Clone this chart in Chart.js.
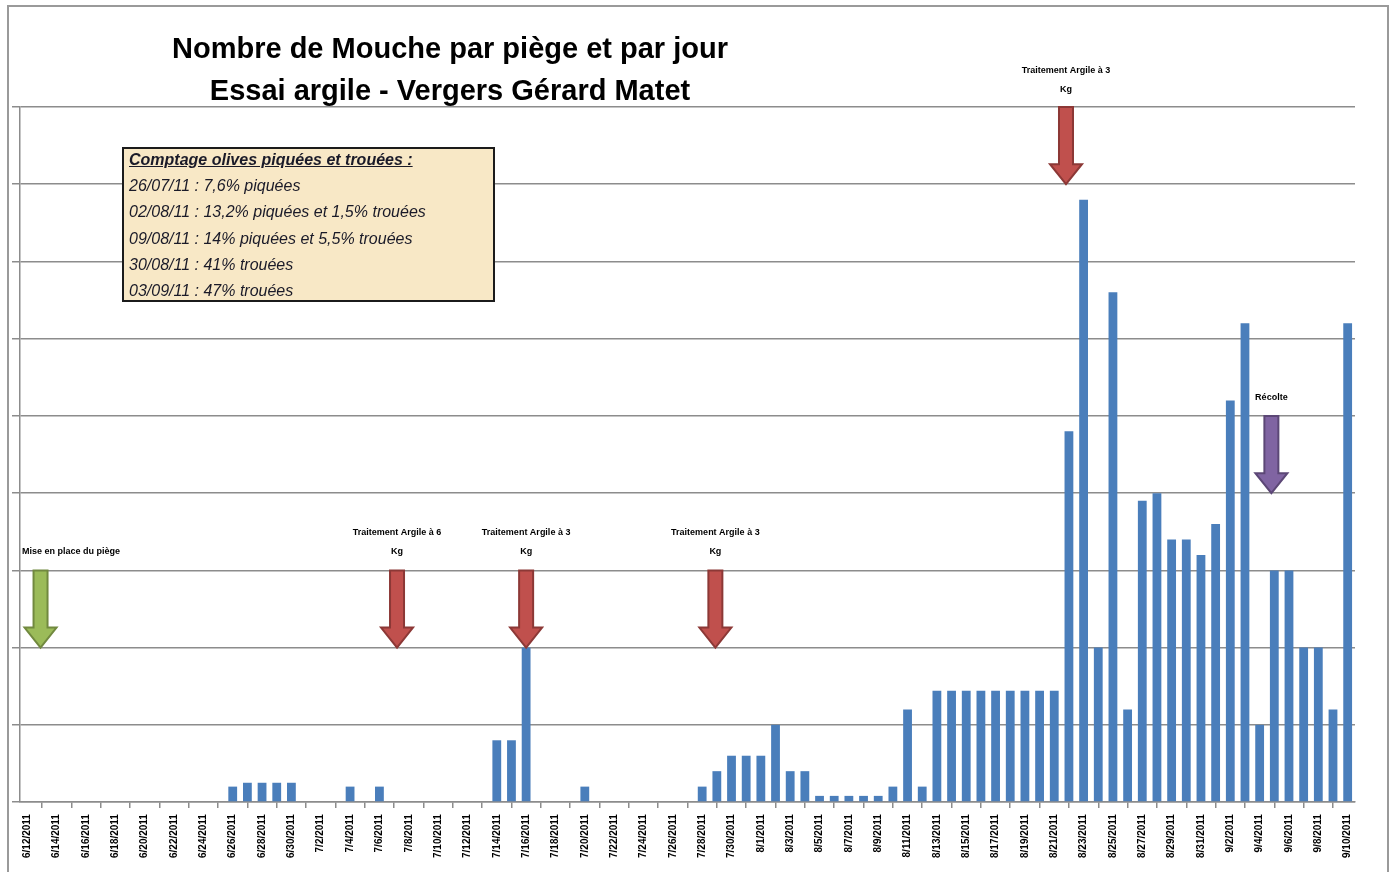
<!DOCTYPE html>
<html lang="fr">
<head>
<meta charset="utf-8">
<title>Nombre de Mouche par piège et par jour</title>
<script src="https://cdn.jsdelivr.net/npm/chart.js@4"></script>
<style>
  html, body { margin: 0; padding: 0; background: #fff; }
  body { width: 1397px; height: 872px; position: relative; overflow: hidden; font-family: "Liberation Sans", Arial, sans-serif; }
  #cadre { position: absolute; left: 7px; top: 5px; width: 1382px; height: 900px; border: 2px solid #9a9a9a; box-sizing: border-box; }
  #zone { position: absolute; left: 0; top: 0; width: 1397px; height: 872px; }
  #titre { position: absolute; left: 150px; top: 27px; width: 600px; text-align: center; font-weight: bold; font-size: 29px; line-height: 42px; color: #000; }
  #comptage { position: absolute; left: 122px; top: 147px; width: 373px; height: 155px; box-sizing: border-box;
    border: 2px solid #1b1b1b; background: #f8e8c6; padding: 0 0 0 5px; font-style: italic; font-size: 16px; line-height: 26.2px; color: #1a1a28; }
  #comptage .texte { position: relative; top: -2px; }
  #comptage .tete { font-weight: bold; text-decoration: underline; }
</style>
</head>
<body>
<div id="cadre"></div>
<div id="zone"><canvas id="graphique" width="1397" height="872"></canvas></div>
<div id="titre">Nombre de Mouche par piège et par jour<br>Essai argile - Vergers Gérard Matet</div>
<div id="comptage"><div class="texte">
  <div class="tete">Comptage olives piquées et trouées :</div>
  <div>26/07/11 : 7,6% piquées</div>
  <div>02/08/11 : 13,2% piquées et 1,5% trouées</div>
  <div>09/08/11 : 14% piquées et 5,5% trouées</div>
  <div>30/08/11 : 41% trouées</div>
  <div>03/09/11 : 47% trouées</div>
</div></div>
<script>
const jours = [
  '6/12/2011','6/13/2011','6/14/2011','6/15/2011','6/16/2011','6/17/2011','6/18/2011','6/19/2011','6/20/2011','6/21/2011',
  '6/22/2011','6/23/2011','6/24/2011','6/25/2011','6/26/2011','6/27/2011','6/28/2011','6/29/2011','6/30/2011',
  '7/1/2011','7/2/2011','7/3/2011','7/4/2011','7/5/2011','7/6/2011','7/7/2011','7/8/2011','7/9/2011','7/10/2011',
  '7/11/2011','7/12/2011','7/13/2011','7/14/2011','7/15/2011','7/16/2011','7/17/2011','7/18/2011','7/19/2011','7/20/2011',
  '7/21/2011','7/22/2011','7/23/2011','7/24/2011','7/25/2011','7/26/2011','7/27/2011','7/28/2011','7/29/2011','7/30/2011','7/31/2011',
  '8/1/2011','8/2/2011','8/3/2011','8/4/2011','8/5/2011','8/6/2011','8/7/2011','8/8/2011','8/9/2011','8/10/2011',
  '8/11/2011','8/12/2011','8/13/2011','8/14/2011','8/15/2011','8/16/2011','8/17/2011','8/18/2011','8/19/2011','8/20/2011',
  '8/21/2011','8/22/2011','8/23/2011','8/24/2011','8/25/2011','8/26/2011','8/27/2011','8/28/2011','8/29/2011','8/30/2011','8/31/2011',
  '9/1/2011','9/2/2011','9/3/2011','9/4/2011','9/5/2011','9/6/2011','9/7/2011','9/8/2011','9/9/2011','9/10/2011'
];

// mouches par piège et par jour
const mouches = [
  0, 0, 0, 0, 0, 0, 0, 0, 0, 0,
  0, 0, 0, 0, 0.2, 0.25, 0.25, 0.25, 0.25,
  0, 0, 0, 0.2, 0, 0.2, 0, 0, 0, 0,
  0, 0, 0, 0.8, 0.8, 2.0, 0, 0, 0, 0.2,
  0, 0, 0, 0, 0, 0, 0, 0.2, 0.4, 0.6, 0.6,
  0.6, 1.0, 0.4, 0.4, 0.08, 0.08, 0.08, 0.08, 0.08, 0.2,
  1.2, 0.2, 1.44, 1.44, 1.44, 1.44, 1.44, 1.44, 1.44, 1.44,
  1.44, 4.8, 7.8, 2.0, 6.6, 1.2, 3.9, 4.0, 3.4, 3.4, 3.2,
  3.6, 5.2, 6.2, 1.0, 3.0, 3.0, 2.0, 2.0, 1.2, 6.2
];

// flèches d'événements : position en jours, haut et pointe sur l'axe des mouches
const evtTextes = [['Mise en place du piège'], ['Traitement Argile à 6', 'Kg'], ['Traitement Argile à 3', 'Kg'],
  ['Traitement Argile à 3', 'Kg'], ['Traitement Argile à 3', 'Kg'], ['Récolte']];
const evtJour = [0.9, 25.2, 34, 46.9, 70.8, 84.8];
const evtHaut = [3, 3, 3, 3, 9, 5];
const evtPointe = [2, 2, 2, 2, 8, 4];
const evtCouleur = ['#9bbb59', '#c0504d', '#c0504d', '#c0504d', '#c0504d', '#8064a2'];
const evtBord = ['#71893f', '#8c3836', '#8c3836', '#8c3836', '#8c3836', '#5c4776'];

const gris = '#8c8c8c';

const fleches = {
  id: 'fleches',
  afterDatasetsDraw(chart) {
    const ctx = chart.ctx;
    const x = chart.scales.x, y = chart.scales.y;
    ctx.save();
    for (let i = 0; i < evtJour.length; i++) {
      const px = x.getPixelForValue(evtJour[i]);
      const haut = y.getPixelForValue(evtHaut[i]);
      const pointe = y.getPixelForValue(evtPointe[i]);
      const tete = 20;
      ctx.beginPath();
      ctx.moveTo(px - 7, haut);
      ctx.lineTo(px + 7, haut);
      ctx.lineTo(px + 7, pointe - tete);
      ctx.lineTo(px + 16, pointe - tete);
      ctx.lineTo(px, pointe);
      ctx.lineTo(px - 16, pointe - tete);
      ctx.lineTo(px - 7, pointe - tete);
      ctx.closePath();
      ctx.fillStyle = evtCouleur[i];
      ctx.fill();
      ctx.lineWidth = 2;
      ctx.strokeStyle = evtBord[i];
      ctx.stroke();

      ctx.fillStyle = '#000';
      ctx.font = 'bold 9px "Liberation Sans Narrow", "Liberation Sans", Arial';
      ctx.textBaseline = 'middle';
      const lignes = evtTextes[i];
      if (i === 0) {
        ctx.textAlign = 'left';
        ctx.fillText(lignes[0], 22, haut - 19);
      } else {
        ctx.textAlign = 'center';
        const ecart = evtHaut[i] === 9 ? 36 : 38;
        lignes.forEach((t, k) => {
          const dy = lignes.length === 2 ? (k === 0 ? -ecart : -ecart + 19) : -18;
          ctx.fillText(t, px, haut + dy);
        });
      }
    }
    ctx.restore();
  }
};

new Chart(document.getElementById('graphique'), {
  type: 'bar',
  data: {
    labels: jours,
    datasets: [{
      data: mouches,
      backgroundColor: '#4a7ebb',
      borderWidth: 0,
      barPercentage: 0.6,
      categoryPercentage: 1
    }]
  },
  options: {
    responsive: false,
    animation: false,
    layout: { padding: { left: 12, right: 42, top: 107, bottom: 8 } },
    plugins: { legend: { display: false }, tooltip: { enabled: false }, title: { display: false } },
    scales: {
      x: {
        offset: true,
        grid: { drawOnChartArea: false, drawTicks: true, tickLength: 6, color: gris, lineWidth: 1.5, offset: true },
        border: { color: gris, width: 1.5 },
        ticks: {
          autoSkip: false,
          minRotation: 90,
          maxRotation: 90,
          padding: 6,
          color: '#000',
          font: { family: '"Liberation Sans", Arial', size: 10, weight: 'bold' },
          callback: (v, i) => (i % 2 === 0 ? jours[i] : null)
        }
      },
      y: {
        min: 0,
        max: 9,
        grid: { color: gris, lineWidth: 1.5, tickLength: 8, drawTicks: true },
        border: { color: gris, width: 1.5 },
        ticks: { display: false, stepSize: 1 }
      }
    }
  },
  plugins: [fleches]
});
</script>
</body>
</html>
